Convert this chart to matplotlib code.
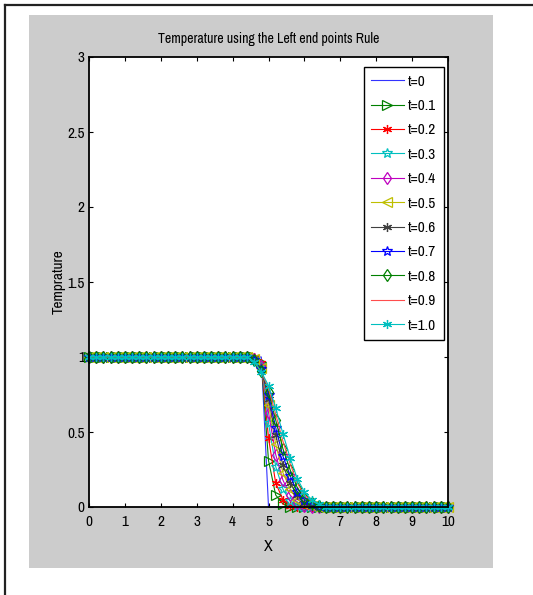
import numpy as np
import matplotlib
matplotlib.use("Agg")
import matplotlib.pyplot as plt
from matplotlib.patches import Rectangle
from matplotlib.lines import Line2D

plt.rcParams['font.family'] = ['Archivo Narrow', 'DejaVu Sans']

# ---- data ----
x = np.round(np.arange(0, 10.0001, 0.2), 2)           # grid points 0..10
x_trans = [4.6, 4.8, 5.0, 5.2, 5.4, 5.6, 5.8, 6.0, 6.2, 6.4]
times = ["t=0", "t=0.1", "t=0.2", "t=0.3", "t=0.4", "t=0.5",
         "t=0.6", "t=0.7", "t=0.8", "t=0.9", "t=1.0"]
# values over the transition region (x = 4.6 ... 6.4) for each time
trans_t00 = [1.00, 1.00, 0.00, 0.00, 0.00, 0.00, 0.00, 0.00, 0.00, 0.00]
trans_t01 = [1.00, 0.97, 0.31, 0.08, 0.02, 0.00, 0.00, 0.00, 0.00, 0.00]
trans_t02 = [1.00, 0.96, 0.46, 0.16, 0.05, 0.01, 0.00, 0.00, 0.00, 0.00]
trans_t03 = [0.99, 0.95, 0.56, 0.27, 0.12, 0.04, 0.01, 0.00, 0.00, 0.00]
trans_t04 = [0.99, 0.94, 0.63, 0.35, 0.18, 0.08, 0.03, 0.01, 0.00, 0.00]
trans_t05 = [0.99, 0.93, 0.68, 0.42, 0.23, 0.12, 0.05, 0.02, 0.01, 0.00]
trans_t06 = [0.98, 0.92, 0.72, 0.48, 0.28, 0.16, 0.08, 0.03, 0.01, 0.00]
trans_t07 = [0.98, 0.92, 0.75, 0.53, 0.34, 0.21, 0.10, 0.05, 0.02, 0.01]
trans_t08 = [0.98, 0.91, 0.77, 0.58, 0.39, 0.25, 0.13, 0.06, 0.03, 0.01]
trans_t09 = [0.97, 0.90, 0.79, 0.62, 0.44, 0.29, 0.16, 0.08, 0.04, 0.02]
trans_t10 = [0.97, 0.90, 0.81, 0.66, 0.49, 0.33, 0.19, 0.10, 0.05, 0.02]
transitions = [trans_t00, trans_t01, trans_t02, trans_t03, trans_t04, trans_t05,
               trans_t06, trans_t07, trans_t08, trans_t09, trans_t10]
x_ticks = [0, 1, 2, 3, 4, 5, 6, 7, 8, 9, 10]
y_ticks = [0, 0.5, 1, 1.5, 2, 2.5, 3]
y_ticklabels = ["0", "0.5", "1", "1.5", "2", "2.5", "3"]

colors = [(0.2, 0.2, 1), (0, 0.5, 0), (1, 0, 0), (0, 0.75, 0.75), (0.75, 0, 0.75),
          (0.75, 0.75, 0), (0.25, 0.25, 0.25), (0, 0, 1), (0, 0.5, 0), (1, 0.3, 0.3),
          (0, 0.75, 0.75)]
AST = (6, 2, 0)   # asterisk marker
markers = ['None', '>', AST, '*', 'd', '<', AST, '*', 'd', 'None', AST]

W, H = 533, 595
fig = plt.figure(figsize=(W / 100, H / 100), dpi=100, facecolor='white')

# gray figure panel
fig.add_artist(Rectangle((29 / W, (H - 568) / H), (493 - 29) / W, (568 - 15) / H,
                         transform=fig.transFigure, facecolor='#cccccc',
                         edgecolor='none', zorder=-10))
# outer frame lines
fig.add_artist(Line2D([5 / W, 5 / W], [0, 1 - 5 / H], transform=fig.transFigure,
                      color='#222222', lw=1.6, zorder=-5))
fig.add_artist(Line2D([5 / W, 1], [1 - 5 / H, 1 - 5 / H], transform=fig.transFigure,
                      color='#222222', lw=1.6, zorder=-5))

ax = fig.add_axes([89 / W, (H - 507) / H, (448 - 89) / W, (507 - 57) / H])
ax.set_zorder(1)
ax.set_facecolor('white')

i_start = list(np.round(x, 2)).index(4.6)
for k, (lab, tr) in enumerate(zip(times, transitions)):
    n_after = len(x) - i_start - len(tr)
    y = np.concatenate([np.ones(i_start), np.array(tr), np.zeros(n_after)])
    ms = 7.5 if markers[k] == '*' else 6.5
    ax.plot(x, y, color=colors[k], marker=markers[k], markersize=ms,
            markerfacecolor='none', markeredgewidth=0.9, lw=0.8, label=lab,
            clip_on=False)

ax.set_xlim(0, 10)
ax.set_ylim(0, 3)
ax.set_xticks(x_ticks)
ax.set_yticks(y_ticks)
ax.set_yticklabels(y_ticklabels)
ax.tick_params(direction='in', length=3, width=0.8, top=True, right=True,
               labelsize=11, colors='black')
ax.tick_params(axis='x', pad=6)
ax.tick_params(axis='y', pad=3)
for s in ax.spines.values():
    s.set_linewidth(1.3)
    s.set_color('black')

ax.set_title("Temperature using the Left end points Rule", fontsize=10, pad=10)
ax.set_xlabel("X", fontsize=11.5, labelpad=7)
ax.set_ylabel("Temprature", fontsize=11, labelpad=1)

leg = ax.legend(loc='upper right', bbox_to_anchor=((444 - 89) / 359, (507 - 67) / 450),
                borderaxespad=0, fancybox=False, framealpha=1, edgecolor='black',
                fontsize=11, handlelength=2.1, labelspacing=0.68, handletextpad=0.3,
                borderpad=0.5)
leg.get_frame().set_linewidth(1.0)

fig.savefig("out.png", dpi=100, facecolor='white')
